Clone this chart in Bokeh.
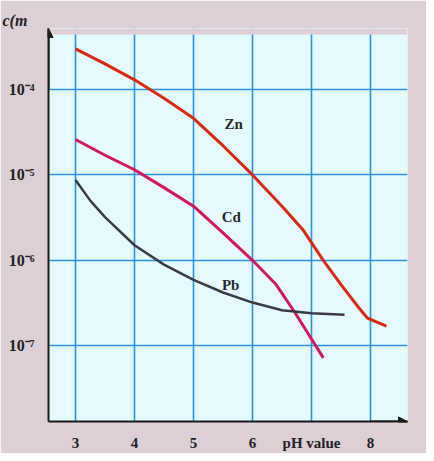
from bokeh.plotting import figure
from bokeh.models import (Range1d, FixedTicker, Label, Arrow, NormalHead,
                          BoxAnnotation, CustomJSTickFormatter)
from bokeh.embed import file_html
from bokeh.resources import INLINE

# ---- data ----
ph_zn = [3, 3.5, 4, 4.5, 5, 5.5, 6, 6.5, 6.85, 7.2, 7.5, 7.78, 7.95, 8.1, 8.27]
c_zn = [3.0e-4, 2.0e-4, 1.3e-4, 7.9e-5, 4.6e-5, 2.2e-5, 1.0e-5, 4.3e-6, 2.3e-6,
        1.0e-6, 5.2e-7, 2.9e-7, 2.1e-7, 1.9e-7, 1.7e-7]
ph_cd = [3, 3.5, 4, 4.5, 5, 5.5, 6, 6.4, 6.71, 7.0, 7.2]
c_cd = [2.6e-5, 1.7e-5, 1.15e-5, 7.1e-6, 4.3e-6, 2.1e-6, 1.0e-6, 5.2e-7, 2.5e-7,
        1.2e-7, 7.2e-8]
ph_pb = [3, 3.25, 3.5, 4, 4.5, 5, 5.5, 6, 6.5, 7, 7.56]
c_pb = [8.7e-6, 5.0e-6, 3.2e-6, 1.5e-6, 8.9e-7, 5.9e-7, 4.2e-7, 3.2e-7, 2.6e-7,
        2.4e-7, 2.3e-7]

x_ticks = [3, 4, 5, 6, 7, 8]
x_labels = {7: "pH value"}
y_ticks = [1e-7, 1e-6, 1e-5, 1e-4]

series_labels = [("Zn", 5.68, 4.0e-5), ("Cd", 5.64, 3.2e-6), ("Pb", 5.63, 5.2e-7)]

X0, X1 = 2.542, 8.627
Y0 = 10 ** -7.888
Y_CYAN = 10 ** -3.354          # top of the light-blue grid area
Y1 = 10 ** (-3.354 + 6 / 86.67)  # arrow tip

PINK = "#dccfd6"

# ---- figure ----
p = figure(width=426, height=453, output_backend="svg", toolbar_location=None,
           y_axis_type="log", x_range=Range1d(X0, X1), y_range=Range1d(Y0, Y1),
           min_border_left=48, min_border_right=19, min_border_top=28,
           min_border_bottom=26)
p.border_fill_color = PINK
p.background_fill_color = "#e4fafe"
p.outline_line_color = None

p.title.text = "c(m"
p.title.align = "left"
p.title.offset = -46
p.title.standoff = 0
p.title.text_font = "Liberation Serif"
p.title.text_font_size = "16px"
p.title.text_font_style = "bold italic"
p.title.text_color = "#222222"

p.xaxis.ticker = FixedTicker(ticks=x_ticks)
p.xaxis.major_label_overrides = x_labels
p.yaxis.ticker = FixedTicker(ticks=y_ticks)
p.yaxis.formatter = CustomJSTickFormatter(code="""
const sup = {'0':'\u2070','1':'\u00b9','2':'\u00b2','3':'\u00b3','4':'\u2074','5':'\u2075','6':'\u2076','7':'\u2077','8':'\u2078','9':'\u2079','-':'\u207b'};
const e = Math.round(Math.log10(tick));
return '10' + String(e).split('').map(ch => sup[ch]).join('');
""")

for ax in (p.xaxis, p.yaxis):
    ax.axis_line_color = "#1a1a1a"
    ax.axis_line_width = 2
    ax.major_tick_line_color = None
    ax.minor_tick_line_color = None
    ax.major_label_text_font = "Liberation Serif"
    ax.major_label_text_font_size = "15px"
    ax.major_label_text_font_style = "bold"
    ax.major_label_text_color = "#222222"
    ax.major_label_standoff = 7
p.yaxis.major_label_text_font_size = "16px"
p.yaxis.major_label_standoff = 8

p.xgrid.ticker = FixedTicker(ticks=x_ticks)
p.ygrid.ticker = FixedTicker(ticks=y_ticks)
p.grid.grid_line_color = "#2a92e0"
p.grid.grid_line_width = 1.6
p.ygrid.minor_grid_line_color = None

p.line(ph_zn, c_zn, line_color="#d62a12", line_width=3)
p.line(ph_cd, c_cd, line_color="#d0185a", line_width=3)
p.line(ph_pb, c_pb, line_color="#3c3a44", line_width=2.5)

for name, x, y in series_labels:
    p.add_layout(Label(x=x, y=y, text=name, text_font="Liberation Serif",
                       text_font_size="15px", text_font_style="bold",
                       text_color="#2a2a2a", text_align="center",
                       text_baseline="middle"))

# pink strip above the light-blue area (hides grid lines there)
p.add_layout(BoxAnnotation(bottom=Y_CYAN, fill_color=PINK, fill_alpha=1.0,
                           line_color=None))

# axis arrows
p.add_layout(Arrow(x_start=X0, y_start=1e-4, x_end=X0, y_end=Y1,
                   line_color="#1a1a1a", line_width=2,
                   end=NormalHead(size=9, line_color="#1a1a1a", fill_color="#1a1a1a")))
p.add_layout(Arrow(x_start=8.0, y_start=Y0, x_end=X1, y_end=Y0,
                   line_color="#1a1a1a", line_width=2,
                   end=NormalHead(size=9, line_color="#1a1a1a", fill_color="#1a1a1a")))

open("out.html", "w").write(file_html(p, INLINE))
